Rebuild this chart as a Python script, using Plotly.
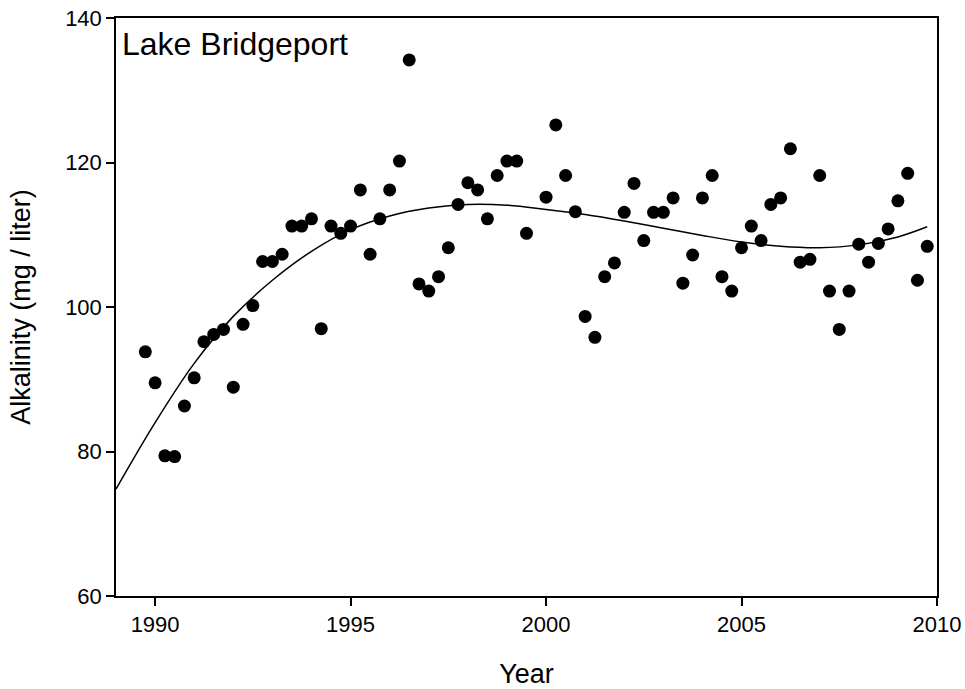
import plotly.graph_objects as go

# Quarterly alkalinity samples, Lake Bridgeport
sample_year = [
    1989.75, 1990.00, 1990.25, 1990.50, 1990.75, 1991.00, 1991.25, 1991.50, 1991.75,
    1992.00, 1992.25, 1992.50, 1992.75, 1993.00, 1993.25, 1993.50, 1993.75,
    1994.00, 1994.25, 1994.50, 1994.75, 1995.00, 1995.25, 1995.50, 1995.75,
    1996.00, 1996.25, 1996.50, 1996.75, 1997.00, 1997.25, 1997.50, 1997.75,
    1998.00, 1998.25, 1998.50, 1998.75, 1999.00, 1999.25, 1999.50,
    2000.00, 2000.25, 2000.50, 2000.75, 2001.00, 2001.25, 2001.50, 2001.75,
    2002.00, 2002.25, 2002.50, 2002.75, 2003.00, 2003.25, 2003.50, 2003.75,
    2004.00, 2004.25, 2004.50, 2004.75, 2005.00, 2005.25, 2005.50, 2005.75,
    2006.00, 2006.25, 2006.50, 2006.75, 2007.00, 2007.25, 2007.50, 2007.75,
    2008.00, 2008.25, 2008.50, 2008.75, 2009.00, 2009.25, 2009.50, 2009.75,
]
alkalinity = [
    93.8, 89.5, 79.4, 79.3, 86.3, 90.2, 95.2, 96.2, 96.9,
    88.9, 97.6, 100.2, 106.3, 106.3, 107.3, 111.2, 111.2,
    112.2, 97.0, 111.2, 110.2, 111.2, 116.2, 107.3, 112.2,
    116.2, 120.2, 134.2, 103.2, 102.2, 104.2, 108.2, 114.2,
    117.2, 116.2, 112.2, 118.2, 120.2, 120.2, 110.2,
    115.2, 125.2, 118.2, 113.2, 98.7, 95.8, 104.2, 106.1,
    113.1, 117.1, 109.2, 113.1, 113.1, 115.1, 103.3, 107.2,
    115.1, 118.2, 104.2, 102.2, 108.2, 111.2, 109.2, 114.2,
    115.1, 121.9, 106.2, 106.6, 118.2, 102.2, 96.9, 102.2,
    108.7, 106.2, 108.8, 110.8, 114.7, 118.5, 103.7, 108.4,
]

# Smoothed trend line
trend_year = [1989.0, 1990.0, 1991.0, 1992.0, 1993.0, 1994.0, 1995.0, 1996.0,
              1997.0, 1998.0, 1999.0, 2000.0, 2001.0, 2002.0, 2003.0, 2004.0,
              2005.0, 2006.0, 2007.0, 2008.0, 2009.0, 2009.75]
trend_alk = [74.8, 84.0, 92.2, 98.7, 103.7, 107.7, 110.7, 112.6,
             113.7, 114.2, 114.1, 113.5, 112.8, 111.9, 110.9, 109.9,
             109.0, 108.4, 108.2, 108.6, 109.7, 111.1]

x_ticks = [1990, 1995, 2000, 2005, 2010]
y_ticks = [60, 80, 100, 120, 140]

FONT = "Liberation Sans, Arial, sans-serif"

fig = go.Figure()
fig.add_trace(go.Scatter(
    x=trend_year, y=trend_alk, mode="lines",
    line=dict(color="black", width=1.5, shape="spline", smoothing=1.0),
    hoverinfo="skip", showlegend=False,
))
fig.add_trace(go.Scatter(
    x=sample_year, y=alkalinity, mode="markers",
    marker=dict(color="black", size=13, line=dict(width=0)),
    showlegend=False,
))

axis_common = dict(
    showgrid=False, zeroline=False, automargin=False,
    showline=True, linecolor="black", linewidth=1.5, mirror=True,
    ticks="outside", ticklen=8, tickwidth=1.5, tickcolor="black",
    tickfont=dict(family=FONT, size=22, color="black"),
)

fig.update_xaxes(
    range=[1989, 2010], tickvals=x_ticks, ticktext=[str(v) for v in x_ticks],
    title=dict(text="Year", font=dict(family=FONT, size=27, color="black"), standoff=36),
    **axis_common,
)
fig.update_yaxes(
    range=[60, 140], tickvals=y_ticks, ticktext=[str(v) for v in y_ticks],
    title=dict(text="Alkalinity (mg / liter)", font=dict(family=FONT, size=27, color="black"), standoff=27),
    **axis_common,
)

fig.add_annotation(
    text="Lake Bridgeport", xref="paper", yref="paper", x=0.005, y=0.99,
    xanchor="left", yanchor="top", showarrow=False,
    font=dict(family=FONT, size=32, color="black"),
)

fig.update_layout(
    width=965, height=689,
    margin=dict(l=116, r=28, t=18, b=93, pad=0),
    paper_bgcolor="white", plot_bgcolor="white",
    font=dict(family=FONT, color="black"),
)

fig.write_html("out.html")
